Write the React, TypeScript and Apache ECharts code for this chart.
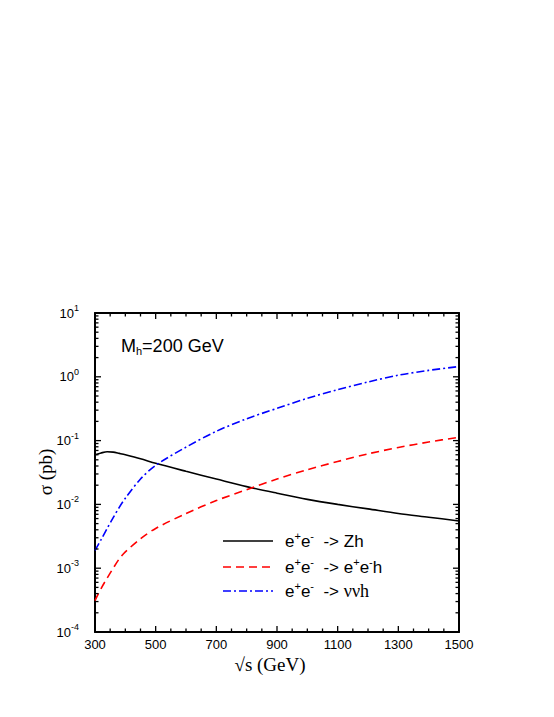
import React, { useEffect, useRef } from "react";
import * as echarts from "echarts";

const energies = [300, 320, 340, 360, 380, 400, 450, 500, 600, 700, 800, 900, 1000, 1100, 1200, 1300, 1400, 1500];
const sigmaZh = [0.060, 0.064, 0.067, 0.066, 0.063, 0.060, 0.052, 0.044, 0.033, 0.025, 0.019, 0.015, 0.012, 0.010, 0.0085, 0.0072, 0.0063, 0.0055];
const sigmaEEh = [3.1e-4, 4.8e-4, 7.0e-4, 1.0e-3, 1.4e-3, 1.8e-3, 2.9e-3, 4.2e-3, 7.2e-3, 0.0115, 0.017, 0.025, 0.035, 0.047, 0.062, 0.078, 0.095, 0.113];
const sigmaNNh = [1.9e-3, 2.8e-3, 4.2e-3, 6.2e-3, 9.0e-3, 0.0125, 0.025, 0.041, 0.079, 0.14, 0.22, 0.32, 0.46, 0.63, 0.83, 1.06, 1.26, 1.45];
const xTicks = [300, 500, 700, 900, 1100, 1300, 1500];
const xMinorStep = 50;
const yDecades = [-4, -3, -2, -1, 0, 1];
const yMinorMantissas = [2, 3, 4, 5, 6, 7, 8, 9];

const SANS = "'Liberation Sans', Arial, sans-serif";
const SERIF = "'Liberation Serif', 'Times New Roman', serif";

export default function App() {
  const ref = useRef<HTMLDivElement>(null);
  useEffect(() => {
    if (!ref.current) return;
    const chart = echarts.init(ref.current, undefined, { renderer: "svg" });
    const xMin = xTicks[0];
    const xMax = xTicks[xTicks.length - 1];
    const yMin = Math.pow(10, yDecades[0]);
    const yMax = Math.pow(10, yDecades[yDecades.length - 1]);
    const mk = (arr: number[]) => energies.map((e, i) => [e, arr[i]]);
    const grid = { left: 95, top: 313, width: 364, height: 319 };
    const lineStyleAxis = { color: "#000", width: 2 };
    const supRich = {
      n: { fontFamily: SANS, fontSize: 13, color: "#000" },
      s: { fontFamily: SANS, fontSize: 9, color: "#000", padding: [0, 0, 10, 0] },
    };
    const legendRich = {
      n: { fontFamily: SANS, fontSize: 17, color: "#000" },
      s: { fontFamily: SANS, fontSize: 11, color: "#000", padding: [0, 0, 11, 0] },
      g: { fontFamily: SERIF, fontSize: 18, color: "#000" },
    };
    const legendItems = [
      { y: 541, color: "#000", dash: "solid" as any, text: "{n|e}{s|+}{n|e}{s|-}{n|  -> Zh}" },
      { y: 567, color: "#ff0000", dash: [8, 5] as any, text: "{n|e}{s|+}{n|e}{s|-}{n|  -> e}{s|+}{n|e}{s|-}{n|h}" },
      { y: 591, color: "#0000ff", dash: [8, 3, 2, 3] as any, text: "{n|e}{s|+}{n|e}{s|-}{n|  -> }{g|ννh}" },
    ];
    const graphics: any[] = [];
    legendItems.forEach((it) => {
      graphics.push({
        type: "line",
        shape: { x1: 223, y1: it.y, x2: 273, y2: it.y },
        style: { stroke: it.color, lineWidth: 1.6, lineDash: it.dash },
      });
      graphics.push({
        type: "text",
        x: 285,
        y: it.y,
        style: { text: it.text, rich: legendRich, verticalAlign: "middle", align: "left" },
      });
    });
    graphics.push({
      type: "text",
      x: 121,
      y: 346,
      style: {
        text: "{n|M}{b|h}{n|=200 GeV}",
        rich: {
          n: { fontFamily: SANS, fontSize: 18, color: "#000" },
          b: { fontFamily: SANS, fontSize: 11, color: "#000", padding: [10, 0, 0, 0] },
        },
        verticalAlign: "middle",
        align: "left",
      },
    });
    graphics.push({
      type: "text",
      x: 270,
      y: 664,
      style: { text: "√s (GeV)", fontFamily: SERIF, fontSize: 19, fill: "#000", align: "center", verticalAlign: "middle" },
    });
    graphics.push({
      type: "text",
      x: 45,
      y: 472,
      rotation: Math.PI / 2,
      style: { text: "σ (pb)", fontFamily: SERIF, fontSize: 19, fill: "#000", align: "center", verticalAlign: "middle" },
    });

    const xAxisBase = {
      type: "value",
      min: xMin,
      max: xMax,
      interval: 200,
      axisLine: { show: true, lineStyle: lineStyleAxis },
      axisTick: { show: false },
      minorTick: { show: false },
      splitLine: { show: false },
    };
    const yAxisBase = {
      type: "log",
      logBase: 10,
      min: yMin,
      max: yMax,
      axisLine: { show: true, lineStyle: lineStyleAxis },
      axisTick: { show: false },
      splitLine: { show: false },
    };

    const lineCommon = { smooth: 0.3, showSymbol: false, symbol: "none" };

    const option: any = {
      animation: false,
      backgroundColor: "#fff",
      grid,
      xAxis: [
        {
          ...xAxisBase,
          axisLabel: { fontFamily: SANS, fontSize: 13, color: "#000", margin: 6, formatter: (v: number) => String(v) },
        },
        { ...xAxisBase, position: "top", axisLabel: { show: false } },
      ],
      yAxis: [
        {
          ...yAxisBase,
          axisLabel: {
            margin: 16,
            formatter: (v: number) => `{n|10}{s|${Math.round(Math.log10(v))}}`,
            rich: supRich,
          },
        },
        { ...yAxisBase, position: "right", axisLabel: { show: false } },
      ],
      series: [
        {
          type: "line",
          name: "Zh",
          data: mk(sigmaZh),
          ...lineCommon,
          lineStyle: { color: "#000", width: 1.6, type: "solid" },
        },
        {
          type: "line",
          name: "eeh",
          data: mk(sigmaEEh),
          ...lineCommon,
          lineStyle: { color: "#ff0000", width: 1.6, type: [8, 5] },
        },
        {
          type: "line",
          name: "vvh",
          data: mk(sigmaNNh),
          ...lineCommon,
          lineStyle: { color: "#0000ff", width: 1.6, type: [8, 3, 2, 3] },
        },
      ],
    };
    chart.setOption(option);

    // Ticks placed through the chart's own scales, with a fallback to the grid mapping
    const gx = (x: number) => grid.left + ((x - xMin) / (xMax - xMin)) * grid.width;
    const gy = (v: number) =>
      grid.top + grid.height - ((Math.log10(v) - yDecades[0]) / (yDecades[yDecades.length - 1] - yDecades[0])) * grid.height;
    const px = (x: number) => {
      const r: any = chart.convertToPixel({ xAxisIndex: 0 }, x);
      const n = Array.isArray(r) ? r[0] : r;
      return typeof n === "number" && isFinite(n) ? n : gx(x);
    };
    const py = (v: number) => {
      const r: any = chart.convertToPixel({ yAxisIndex: 0 }, v);
      const n = Array.isArray(r) ? r[1] : r;
      return typeof n === "number" && isFinite(n) ? n : gy(v);
    };
    const left = px(xMin);
    const right = px(xMax);
    const bottom = py(yMin);
    const top = py(yMax);
    const tick = (x1: number, y1: number, x2: number, y2: number) => ({
      type: "line",
      z: 100,
      shape: { x1, y1, x2, y2 },
      style: { stroke: "#000", lineWidth: 1.3 },
    });
    for (let x = xMin; x <= xMax; x += xMinorStep) {
      const len = xTicks.indexOf(x) >= 0 ? 6 : 3.5;
      const X = px(x);
      graphics.push(tick(X, bottom, X, bottom - len));
      graphics.push(tick(X, top, X, top + len));
    }
    for (let i = 0; i < yDecades.length; i++) {
      const base = Math.pow(10, yDecades[i]);
      const Y = py(base);
      graphics.push(tick(left, Y, left + 6, Y));
      graphics.push(tick(right, Y, right - 6, Y));
      if (i < yDecades.length - 1) {
        for (const m of yMinorMantissas) {
          const Ym = py(m * base);
          graphics.push(tick(left, Ym, left + 3.5, Ym));
          graphics.push(tick(right, Ym, right - 3.5, Ym));
        }
      }
    }
    chart.setOption({ graphic: graphics });
    return () => chart.dispose();
  }, []);
  return (
    <div
      ref={ref}
      style={{ position: "fixed", left: 0, top: 0, width: 554, height: 717, background: "#fff" }}
    />
  );
}
